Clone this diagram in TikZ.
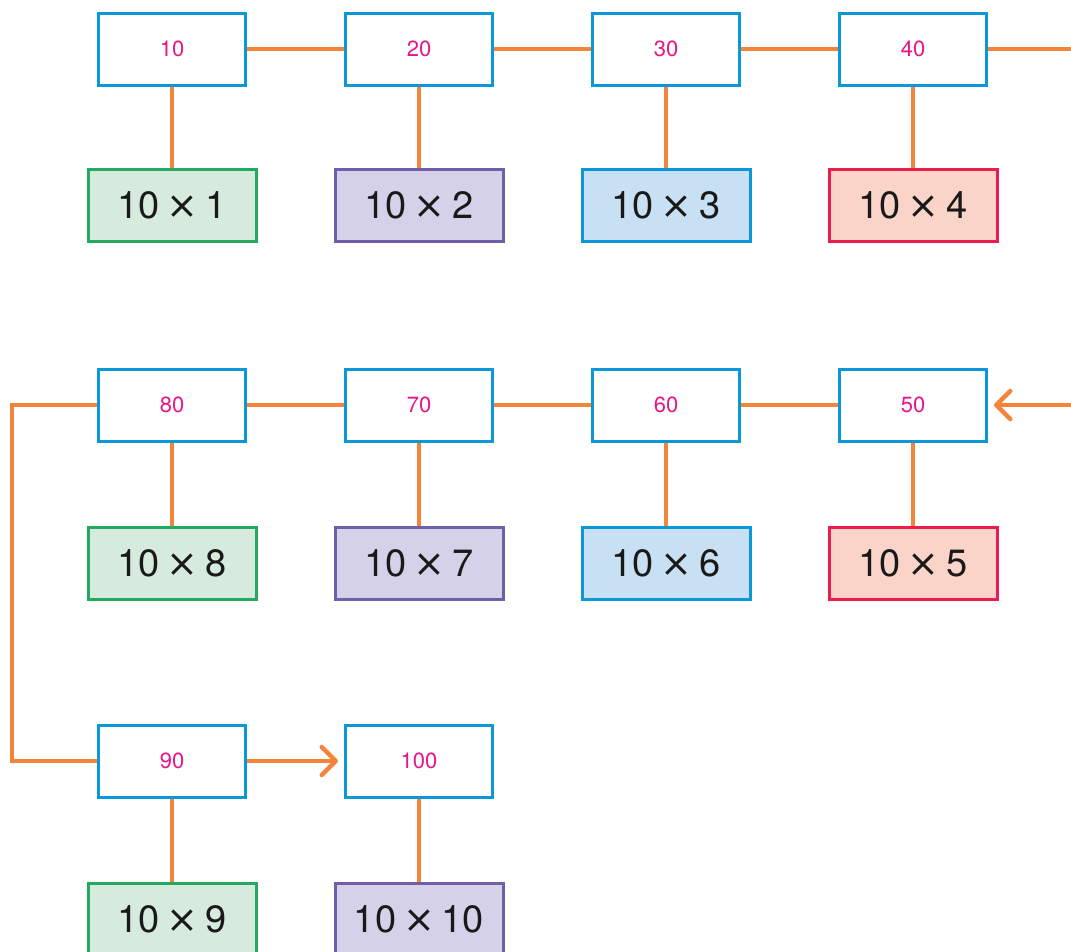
\documentclass[tikz,border=0pt]{standalone}
\usepackage{fontspec}
\setmainfont{TeX Gyre Heros}
\newfontfamily\symf{DejaVu Sans}
\usetikzlibrary{arrows.meta,backgrounds}
\definecolor{boxblue}{HTML}{0A98D8}
\definecolor{numpink}{HTML}{E8168A}
\definecolor{lineor}{HTML}{F3843A}
\definecolor{gB}{HTML}{22AA60}\definecolor{gF}{HTML}{D6EBDD}
\definecolor{pB}{HTML}{6F5FA8}\definecolor{pF}{HTML}{D4D1E8}
\definecolor{bB}{HTML}{0A98D8}\definecolor{bF}{HTML}{C8E0F3}
\definecolor{rB}{HTML}{EC1C4C}\definecolor{rF}{HTML}{FBD4C9}
\newcommand{\tm}{\kern0.18em{\symf ×}\kern0.18em}
\begin{document}
\begin{tikzpicture}[x=1pt,y=-1pt,
  numbox/.style={draw=boxblue,line width=3pt,fill=white,minimum width=147pt,minimum height=72pt,inner sep=0pt,text=numpink,font=\fontsize{22}{24}\selectfont},
  prodbox/.style={line width=3pt,minimum width=168pt,minimum height=72pt,inner sep=0pt,text=black!90,font=\fontsize{38}{40}\selectfont},
  gbox/.style={prodbox,draw=gB,fill=gF},
  pbox/.style={prodbox,draw=pB,fill=pF},
  bbox/.style={prodbox,draw=bB,fill=bF},
  rbox/.style={prodbox,draw=rB,fill=rF},
  conn/.style={draw=lineor,line width=4.5pt},
  arr/.style={conn,-{Straight Barb[length=14pt,width=28pt,line cap=round,line join=round]},shorten >=6pt}
]
\useasboundingbox (0,0) rectangle (1071,951);
% row 1
\node[numbox] (n10) at (172,49) {10};
\node[numbox] (n20) at (419,49) {20};
\node[numbox] (n30) at (666,49) {30};
\node[numbox] (n40) at (913,49) {40};
\node[gbox] (p1) at (172,205) {10\tm1};
\node[pbox] (p2) at (419,205) {10\tm2};
\node[bbox] (p3) at (666,205) {10\tm3};
\node[rbox] (p4) at (913,205) {10\tm4};
% row 2
\node[numbox] (n80) at (172,405) {80};
\node[numbox] (n70) at (419,405) {70};
\node[numbox] (n60) at (666,405) {60};
\node[numbox] (n50) at (913,405) {50};
\node[gbox] (p8) at (172,563) {10\tm8};
\node[pbox] (p7) at (419,563) {10\tm7};
\node[bbox] (p6) at (666,563) {10\tm6};
\node[rbox] (p5) at (913,563) {10\tm5};
% row 3
\node[numbox] (n90) at (172,761) {90};
\node[numbox] (n100) at (419,761) {100};
\node[gbox] (p9) at (172,919) {10\tm9};
\node[pbox] (p10) at (419,919) {10\tm10};
\coordinate (r1) at (1075,49);
\coordinate (r2) at (1075,405);
\coordinate (lc) at (12,405);
\begin{scope}[on background layer]
\draw[conn] (n10) -- (n20);
\draw[conn] (n20) -- (n30);
\draw[conn] (n30) -- (n40);
\draw[conn] (n40) -- (r1);
\draw[conn] (n80) -- (n70);
\draw[conn] (n70) -- (n60);
\draw[conn] (n60) -- (n50);
\foreach \a/\b in {n10/p1,n20/p2,n30/p3,n40/p4,n80/p8,n70/p7,n60/p6,n50/p5,n90/p9,n100/p10}
  \draw[conn] (\a) -- (\b);
\draw[conn] (n80.west) -- (lc) |- (n90.west);
\end{scope}
\draw[arr] (r2) -- (n50.east);
\draw[arr] (n90.east) -- (n100.west);
\end{tikzpicture}
\end{document}
